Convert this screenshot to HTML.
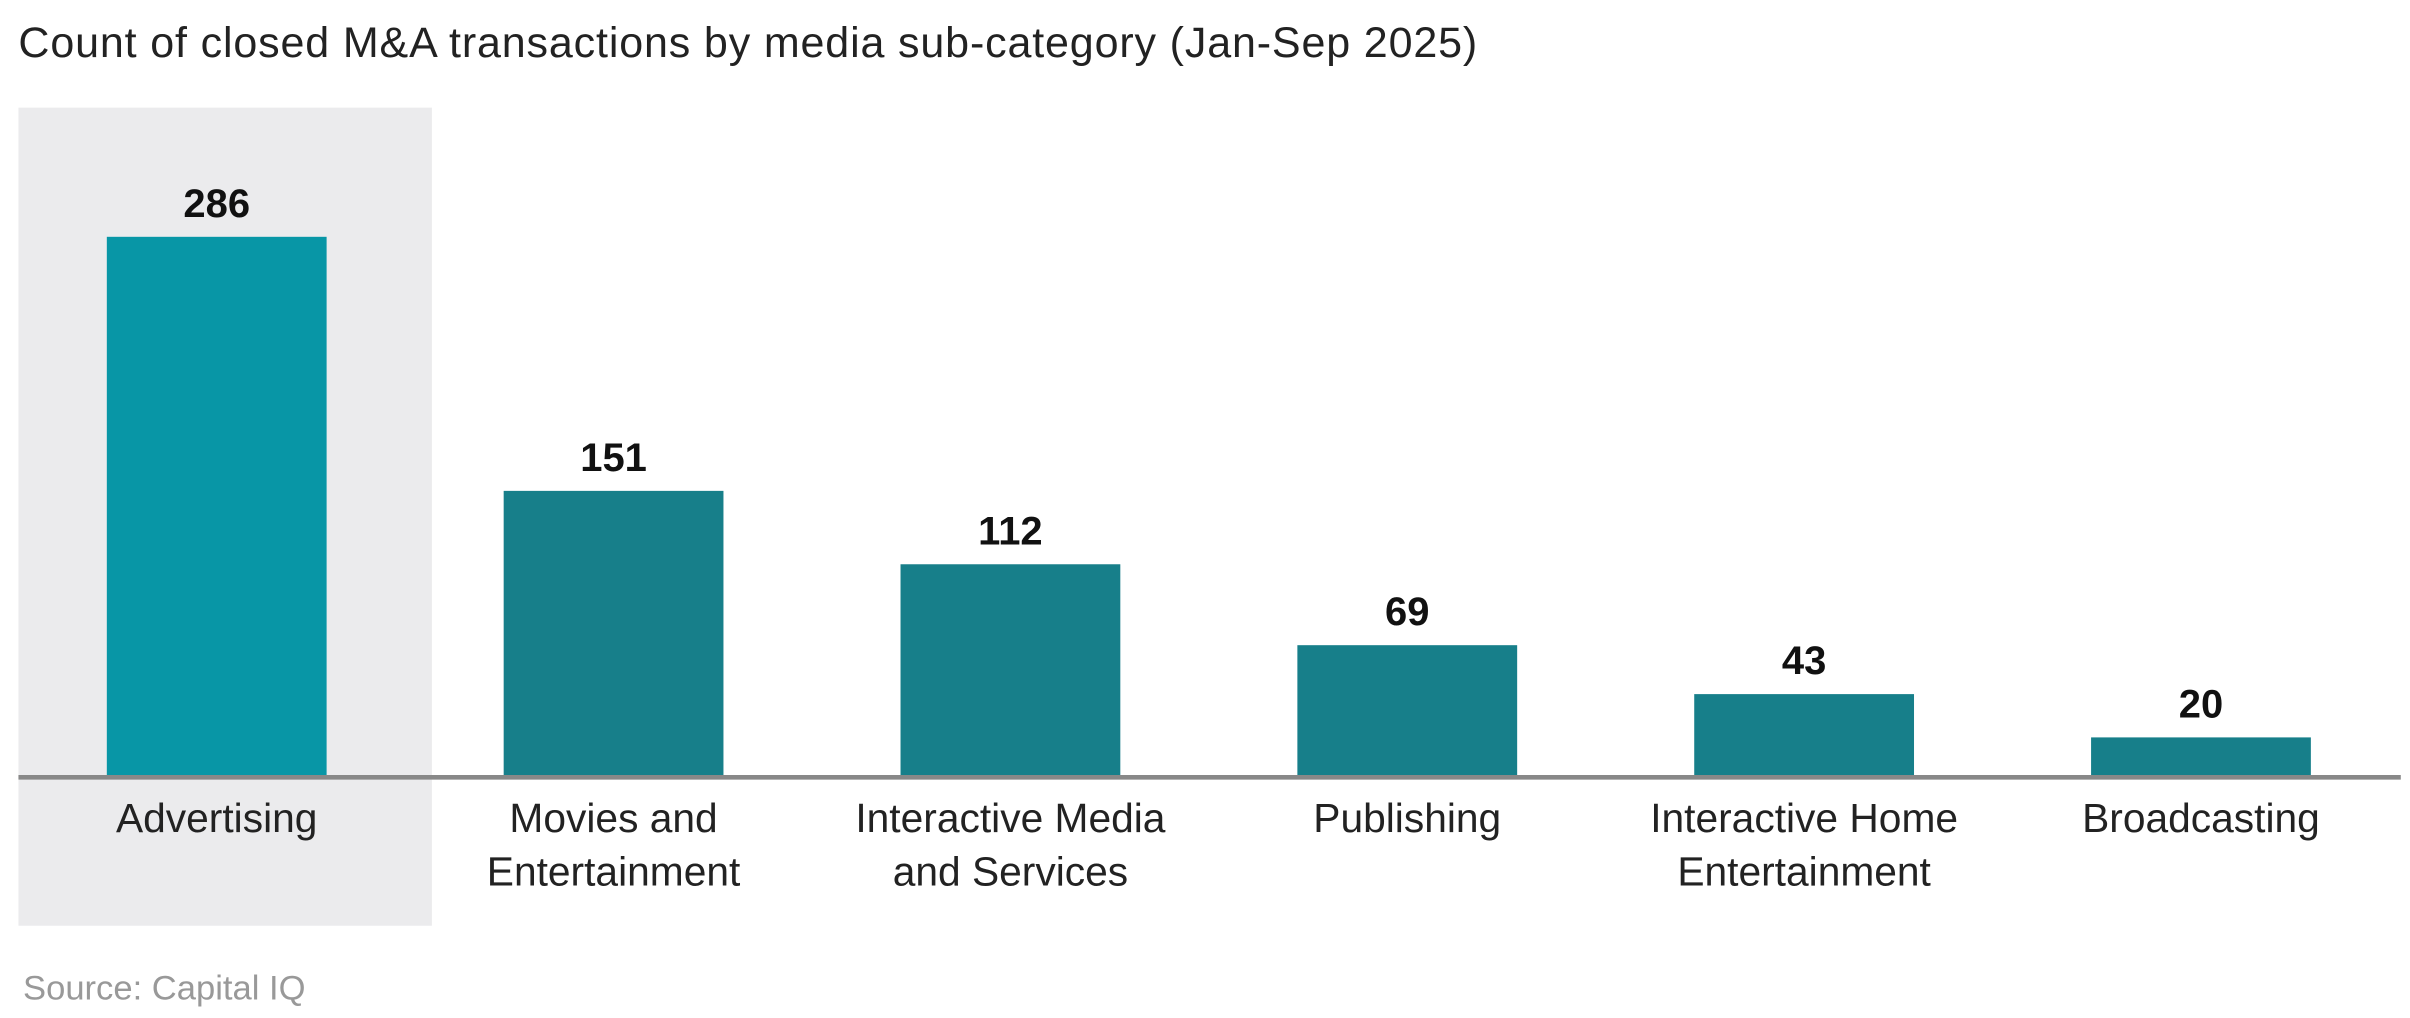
<!DOCTYPE html>
<html><head><meta charset="utf-8"><style>
html,body{margin:0;padding:0;background:#fff;}
svg{display:block;font-family:"Liberation Sans",sans-serif;}
</style></head><body>
<svg id="chart" width="2410" height="1018" viewBox="0 0 1568 662" preserveAspectRatio="none">
<text x="12" y="37" font-size="28" letter-spacing="0.55" fill="#222">Count of closed M&amp;A transactions by media sub-category (Jan-Sep 2025)</text>
<rect x="12" y="70" width="269" height="532" fill="#ebebed"/>
<g id="bars"></g>
<line x1="12" x2="1562" y1="505.5" y2="505.5" stroke="#888" stroke-width="3"/>
<text x="15" y="650" font-size="22.5" fill="#999">Source: Capital IQ</text>
</svg>
<script>
const categories=[["Advertising"],["Movies and","Entertainment"],["Interactive Media","and Services"],["Publishing"],["Interactive Home","Entertainment"],["Broadcasting"]];
const values=[286,151,112,69,43,20];
const ns="http://www.w3.org/2000/svg";
const g=document.getElementById("bars");
const base=504, scale=350/286, x0=141, step=258.2, bw=143;
function xPos(i){return x0+i*step;}
function yPos(v){return base-v*scale;}
values.forEach((v,i)=>{
  const r=document.createElementNS(ns,"rect");
  
  
  r.setAttribute("x",xPos(i)-bw/2);r.setAttribute("y",yPos(v));
  r.setAttribute("width",bw);r.setAttribute("height",base-yPos(v)+1);
  r.setAttribute("fill",i===0?"#0896a6":"#177f8a");
  g.appendChild(r);
  const t=document.createElementNS(ns,"text");
  
  
  t.setAttribute("x",xPos(i));t.setAttribute("y",yPos(v)-13);
  t.setAttribute("text-anchor","middle");t.setAttribute("font-size","26");
  t.setAttribute("font-weight","bold");t.setAttribute("fill","#111");
  t.textContent=v;g.appendChild(t);
  categories[i].forEach((line,j)=>{
    const c=document.createElementNS(ns,"text");
    
    
    c.setAttribute("x",xPos(i));c.setAttribute("y",541+j*35);
    c.setAttribute("text-anchor","middle");c.setAttribute("font-size","26.5");
    c.setAttribute("fill","#222");c.textContent=line;g.appendChild(c);
  });
});
</script>
</body></html>
